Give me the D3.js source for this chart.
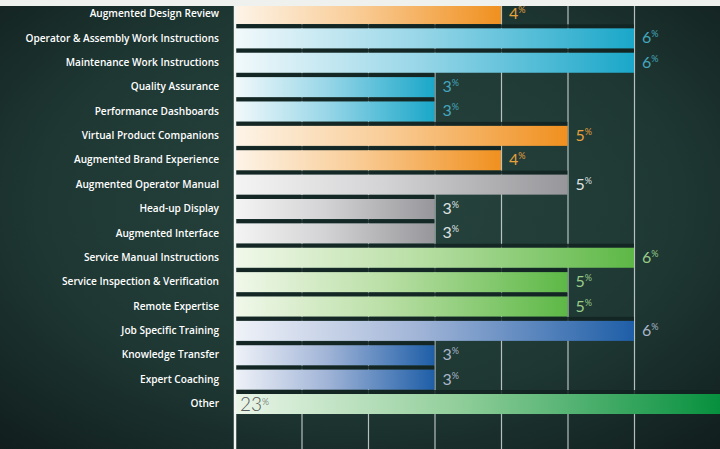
<!DOCTYPE html>
<html><head><meta charset="utf-8">
<script src="https://cdn.jsdelivr.net/npm/d3@7"></script>
<style>html,body{margin:0;padding:0;background:#1c3430;overflow:hidden}</style>
</head><body>
<script>
const categories = ["Augmented Design Review","Operator & Assembly Work Instructions","Maintenance Work Instructions","Quality Assurance","Performance Dashboards","Virtual Product Companions","Augmented Brand Experience","Augmented Operator Manual","Head-up Display","Augmented Interface","Service Manual Instructions","Service Inspection & Verification","Remote Expertise","Job Specific Training","Knowledge Transfer","Expert Coaching","Other"];
const values = [4,6,6,3,3,5,4,5,3,3,6,5,5,6,3,3,23];
const groups = ["orange","cyan","cyan","cyan","cyan","orange","orange","gray","gray","gray","green","green","green","blue","blue","blue","other"];
const tickValues = [1,2,3,4,5,6];

const palette = {
  orange:{c:["#fdf4e8","#f9cd98","#f0901f"], t:"#e4a03c"},
  cyan:{c:["#f2f9fb","#9ad7e8","#1aa7c9"], t:"#45a6be"},
  gray:{c:["#f4f4f4","#d3d3d5","#97979b"], t:"#dfe2e2"},
  green:{c:["#f1f8ea","#badfa6","#5db846"], t:"#98cc88"},
  blue:{c:["#eff2f8","#a3b6d8","#1e5ea7"], t:"#a9b5c9"},
  other:{c:["#eaf5e8","#93cf9c","#06903e"], t:"#555555"}
};

const W=720,H=449;
const svg=d3.select("body").append("svg").attr("width",W).attr("height",H);
const defs=svg.append("defs");

const bg=defs.append("radialGradient").attr("id","bg").attr("cx","0.5").attr("cy","0.45").attr("r","0.75");
bg.append("stop").attr("offset","0").attr("stop-color","#28453f");
bg.append("stop").attr("offset","0.6").attr("stop-color","#1e3733");
bg.append("stop").attr("offset","1").attr("stop-color","#101d1c");
svg.append("rect").attr("width",W).attr("height",H).attr("fill","url(#bg)");

const x=d3.scaleLinear().domain([0,6]).range([235,634]);
const y=d3.scaleBand().domain(categories).range([1.8,416.2]).padding(0);
const bw=y.bandwidth();

// gridlines
const grid=svg.append("g").attr("transform","translate(0,6)")
  .call(d3.axisTop(x).tickValues(tickValues).tickSize(-(H-6)).tickFormat(""));
grid.select(".domain").remove();
grid.selectAll("line").attr("stroke","rgba(235,240,238,0.75)").attr("stroke-width",1.2);

// shadows (dark top strip)
svg.append("g").selectAll("rect").data(categories).join("rect")
  .attr("x",x(0)).attr("y",d=>y(d)+bw/2-14).attr("height",4)
  .attr("width",(d,i)=>Math.min(x(values[i]),W)-x(0))
  .attr("fill","#122321").attr("opacity",0.85);

// gradients + bars
categories.forEach((c,i)=>{
  const g=defs.append("linearGradient").attr("id","g"+i).attr("gradientUnits","userSpaceOnUse")
    .attr("x1",x(0)).attr("x2",Math.min(x(values[i]),W)).attr("y1",0).attr("y2",0);
  const cols=palette[groups[i]].c;
  g.append("stop").attr("offset","0").attr("stop-color",cols[0]);
  g.append("stop").attr("offset","0.45").attr("stop-color",cols[1]);
  g.append("stop").attr("offset","1").attr("stop-color",cols[2]);
});
svg.append("g").selectAll("rect").data(categories).join("rect")
  .attr("x",x(0)).attr("y",d=>y(d)+bw/2-10).attr("height",20)
  .attr("width",(d,i)=>Math.min(x(values[i]),W)-x(0))
  .attr("fill",(d,i)=>"url(#g"+i+")");

// value labels
const vl=svg.append("g").selectAll("text").data(categories).join("text")
  .attr("x",(d,i)=>values[i]>6? x(0)+5 : x(values[i])+8)
  .attr("y",(d,i)=>y(d)+bw/2+(values[i]>6?7:5))
  .attr("fill",(d,i)=>palette[groups[i]].t)
  .style("font-family","Lato, 'Open Sans', sans-serif")
  .style("font-weight",(d,i)=>values[i]>6?300:400)
  .style("font-size",(d,i)=>values[i]>6?"19px":"16px");
vl.append("tspan").text((d,i)=>values[i]);
vl.append("tspan").text("%").attr("dy","-6").style("font-size","9px");

// category axis
const ya=svg.append("g").attr("transform","translate(235,0)")
  .call(d3.axisLeft(y).tickSize(0).tickPadding(16));
ya.select(".domain").remove();
ya.selectAll("text").attr("fill","#ffffff")
  .style("font-family","'Open Sans', sans-serif").style("font-weight",600).style("font-size","10.1px");

// left axis line
svg.append("line").attr("x1",x(0)).attr("x2",x(0)).attr("y1",6).attr("y2",H)
  .attr("stroke","#f4f6f4").attr("stroke-width",2.5);

// top strip
svg.append("rect").attr("x",0).attr("y",0).attr("width",W).attr("height",6).attr("fill","#eef1ee");
</script>
</body></html>
